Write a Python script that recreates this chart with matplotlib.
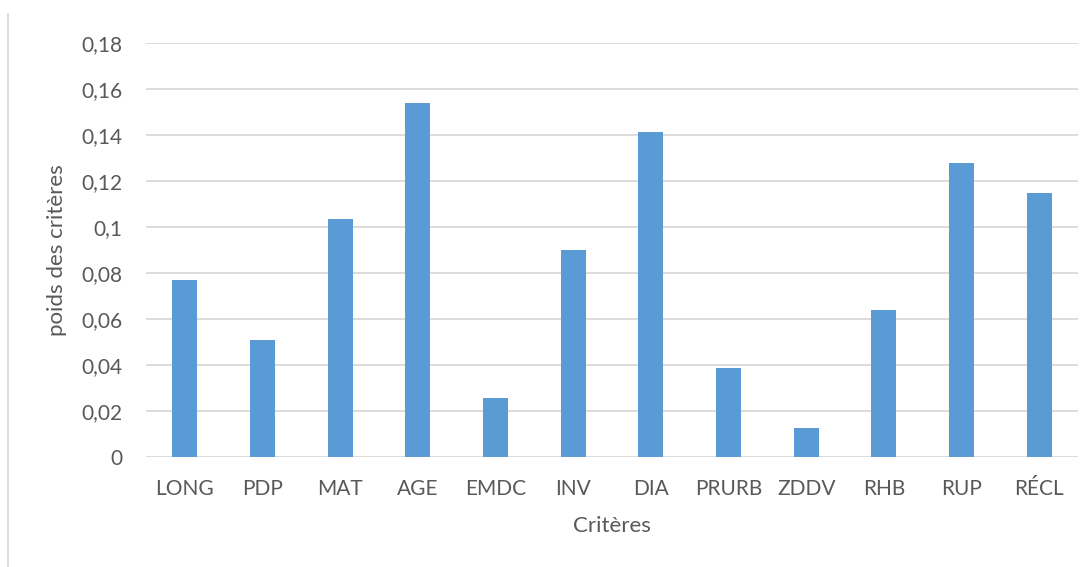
import numpy as np
import matplotlib.pyplot as plt
from matplotlib.lines import Line2D

plt.rcParams['font.family'] = ['Lato', 'DejaVu Sans']

criteres = ['LONG', 'PDP', 'MAT', 'AGE', 'EMDC', 'INV', 'DIA', 'PRURB', 'ZDDV', 'RHB', 'RUP', 'RÉCL']
poids = [0.077, 0.051, 0.1035, 0.154, 0.0257, 0.090, 0.1413, 0.0387, 0.0126, 0.064, 0.128, 0.115]
yticks = [0, 0.02, 0.04, 0.06, 0.08, 0.10, 0.12, 0.14, 0.16, 0.18]
ytick_labels = ['0', '0,02', '0,04', '0,06', '0,08', '0,1', '0,12', '0,14', '0,16', '0,18']

fig = plt.figure(figsize=(10.92, 5.67), dpi=100)
ax = fig.add_axes([146 / 1092, 1 - 457 / 567, 932 / 1092, 414 / 567])

x = np.arange(len(criteres))
ax.bar(x, poids, width=0.32, color='#5B9BD5', zorder=3)

ax.set_xlim(-0.5, len(criteres) - 0.5)
ax.set_ylim(0, 0.18)
ax.set_yticks(yticks)
ax.set_yticklabels(ytick_labels)
ax.set_xticks(x)
ax.set_xticklabels(criteres)
ax.grid(True, axis='y', color='#D9D9D9', linewidth=1.3, zorder=0)
ax.tick_params(length=0, labelsize=15, colors='#595959')
ax.tick_params(axis='y', pad=17)
ax.tick_params(axis='x', pad=16)
for s in ax.spines.values():
    s.set_visible(False)

ax.set_ylabel('poids des critères', fontsize=16, color='#595959', labelpad=10)
ax.set_xlabel('Critères', fontsize=16, color='#595959', labelpad=12)

# chart frame edge on the left
fig.add_artist(Line2D([8 / 1092, 8 / 1092], [0, 1 - 14 / 567], color='#D9D9D9', linewidth=1.3))

fig.savefig('out.png', dpi=100, facecolor='white')
